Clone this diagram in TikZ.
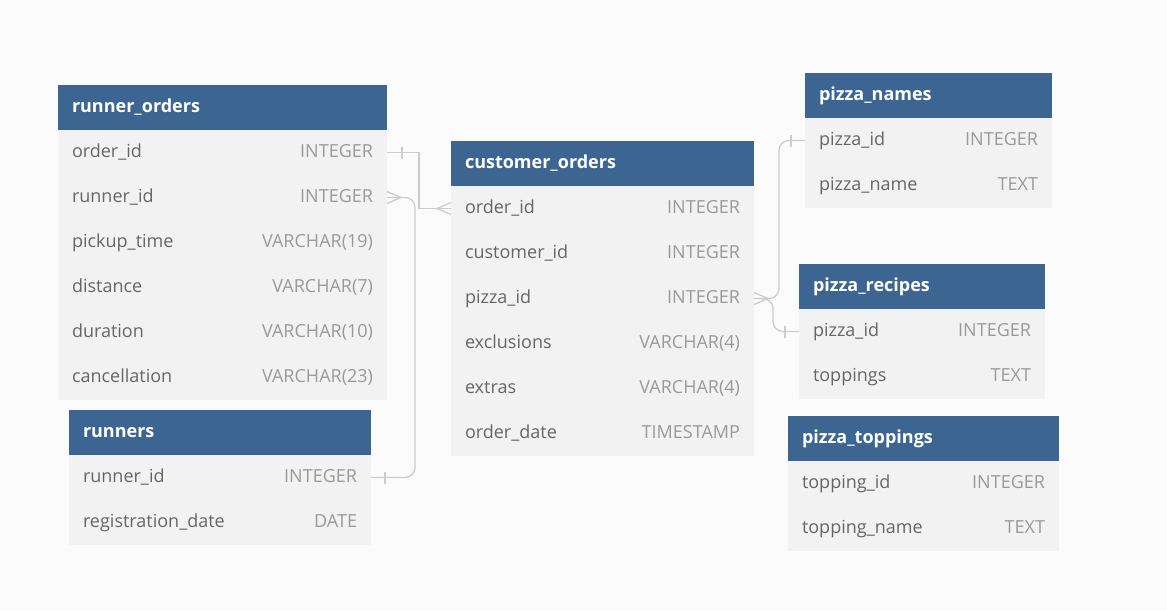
\documentclass[tikz,border=0pt]{standalone}
\usepackage{fontspec}
\setmainfont{Open Sans}
\usetikzlibrary{positioning}

\definecolor{hdrblue}{HTML}{3D6592}
\definecolor{rowgray}{HTML}{F2F2F2}
\definecolor{pagebg}{HTML}{FBFBFB}
\definecolor{fldtext}{HTML}{666666}
\definecolor{typtext}{HTML}{9A9A9A}
\definecolor{linkgray}{HTML}{CCCCCC}

\begin{document}
\begin{tikzpicture}[
x=1pt,y=-1pt,
hdr/.style={
fill=hdrblue,
text=white,
font=\bfseries\fontsize{18}{22}\selectfont,
text width=#1,
align=left,
inner xsep=14pt,
inner ysep=0pt,
outer sep=0pt,
minimum height=45pt,
text height=13pt,
text depth=4pt
},
fld/.style={
fill=rowgray,
text=fldtext,
font=\fontsize{18}{22}\selectfont,
text width=#1,
align=left,
inner xsep=14pt,
inner ysep=0pt,
outer sep=0pt,
minimum height=45pt,
text height=13pt,
text depth=4pt
},
typ/.style={
text=typtext,
font=\fontsize{18}{22}\selectfont,
inner sep=0pt,
outer sep=0pt,
text height=13pt,
text depth=4pt
},
link/.style={
draw=linkgray,
line width=1.3pt
}
]

\fill[pagebg] (0,0) rectangle (1167,611);
\useasboundingbox (0,0) rectangle (1167,611);

% runner_orders
\node[hdr=301pt, anchor=north west] (ro) at (58,85) {runner\_orders};
\node[fld=301pt, below=0pt of ro] (ro-order) {order\_id};
\node[fld=301pt, below=0pt of ro-order] (ro-runner) {runner\_id};
\node[fld=301pt, below=0pt of ro-runner] (ro-pickup) {pickup\_time};
\node[fld=301pt, below=0pt of ro-pickup] (ro-dist) {distance};
\node[fld=301pt, below=0pt of ro-dist] (ro-dur) {duration};
\node[fld=301pt, below=0pt of ro-dur] (ro-cancel) {cancellation};
\node[typ, left=14pt of ro-order.east] (ro-order-t) {INTEGER};
\node[typ, left=14pt of ro-runner.east] (ro-runner-t) {INTEGER};
\node[typ, left=14pt of ro-pickup.east] (ro-pickup-t) {VARCHAR(19)};
\node[typ, left=14pt of ro-dist.east] (ro-dist-t) {VARCHAR(7)};
\node[typ, left=14pt of ro-dur.east] (ro-dur-t) {VARCHAR(10)};
\node[typ, left=14pt of ro-cancel.east] (ro-cancel-t) {VARCHAR(23)};

% runners
\node[hdr=274pt, anchor=north west] (rn) at (69,410) {runners};
\node[fld=274pt, below=0pt of rn] (rn-runner) {runner\_id};
\node[fld=274pt, below=0pt of rn-runner] (rn-reg) {registration\_date};
\node[typ, left=14pt of rn-runner.east] (rn-runner-t) {INTEGER};
\node[typ, left=14pt of rn-reg.east] (rn-reg-t) {DATE};

% customer_orders
\node[hdr=275pt, anchor=north west] (co) at (451,141) {customer\_orders};
\node[fld=275pt, below=0pt of co] (co-order) {order\_id};
\node[fld=275pt, below=0pt of co-order] (co-cust) {customer\_id};
\node[fld=275pt, below=0pt of co-cust] (co-pizza) {pizza\_id};
\node[fld=275pt, below=0pt of co-pizza] (co-excl) {exclusions};
\node[fld=275pt, below=0pt of co-excl] (co-extra) {extras};
\node[fld=275pt, below=0pt of co-extra] (co-date) {order\_date};
\node[typ, left=14pt of co-order.east] (co-order-t) {INTEGER};
\node[typ, left=14pt of co-cust.east] (co-cust-t) {INTEGER};
\node[typ, left=14pt of co-pizza.east] (co-pizza-t) {INTEGER};
\node[typ, left=14pt of co-excl.east] (co-excl-t) {VARCHAR(4)};
\node[typ, left=14pt of co-extra.east] (co-extra-t) {VARCHAR(4)};
\node[typ, left=14pt of co-date.east] (co-date-t) {TIMESTAMP};

% pizza_names
\node[hdr=219pt, anchor=north west] (pn) at (805,73) {pizza\_names};
\node[fld=219pt, below=0pt of pn] (pn-id) {pizza\_id};
\node[fld=219pt, below=0pt of pn-id] (pn-name) {pizza\_name};
\node[typ, left=14pt of pn-id.east] (pn-id-t) {INTEGER};
\node[typ, left=14pt of pn-name.east] (pn-name-t) {TEXT};

% pizza_recipes
\node[hdr=218pt, anchor=north west] (pr) at (799,264) {pizza\_recipes};
\node[fld=218pt, below=0pt of pr] (pr-id) {pizza\_id};
\node[fld=218pt, below=0pt of pr-id] (pr-top) {toppings};
\node[typ, left=14pt of pr-id.east] (pr-id-t) {INTEGER};
\node[typ, left=14pt of pr-top.east] (pr-top-t) {TEXT};

% pizza_toppings
\node[hdr=243pt, anchor=north west] (pt) at (788,416) {pizza\_toppings};
\node[fld=243pt, below=0pt of pt] (pt-id) {topping\_id};
\node[fld=243pt, below=0pt of pt-id] (pt-name) {topping\_name};
\node[typ, left=14pt of pt-id.east] (pt-id-t) {INTEGER};
\node[typ, left=14pt of pt-name.east] (pt-name-t) {TEXT};

% links
\draw[link] (ro-order.east) -- ++(32,0) |- (co-order.west);
\draw[link] ([xshift=15pt]ro-order.east) +(0,-6) -- +(0,6);
\draw[link] ([xshift=-14pt]co-order.west) -- ([yshift=-6pt]co-order.west)
  ([xshift=-14pt]co-order.west) -- ([yshift=6pt]co-order.west);

\draw[link, rounded corners=10pt] (ro-runner.east) -- ++(28,0) |- (rn-runner.east);
\draw[link] ([xshift=14pt]rn-runner.east) +(0,-6) -- +(0,6);
\draw[link] ([xshift=14pt]ro-runner.east) -- ([yshift=-6pt]ro-runner.east)
  ([xshift=14pt]ro-runner.east) -- ([yshift=6pt]ro-runner.east);

\draw[link, rounded corners=10pt] (pn-id.west) -- ++(-26,0) |- (co-pizza.east);
\draw[link, rounded corners=10pt] (pr-id.west) -- ++(-26,0) |- (co-pizza.east);
\draw[link] ([xshift=-14pt]pn-id.west) +(0,-6) -- +(0,6);
\draw[link] ([xshift=-14pt]pr-id.west) +(0,-6) -- +(0,6);
\draw[link] ([xshift=14pt]co-pizza.east) -- ([yshift=-6pt]co-pizza.east)
  ([xshift=14pt]co-pizza.east) -- ([yshift=6pt]co-pizza.east);

\end{tikzpicture}
\end{document}
